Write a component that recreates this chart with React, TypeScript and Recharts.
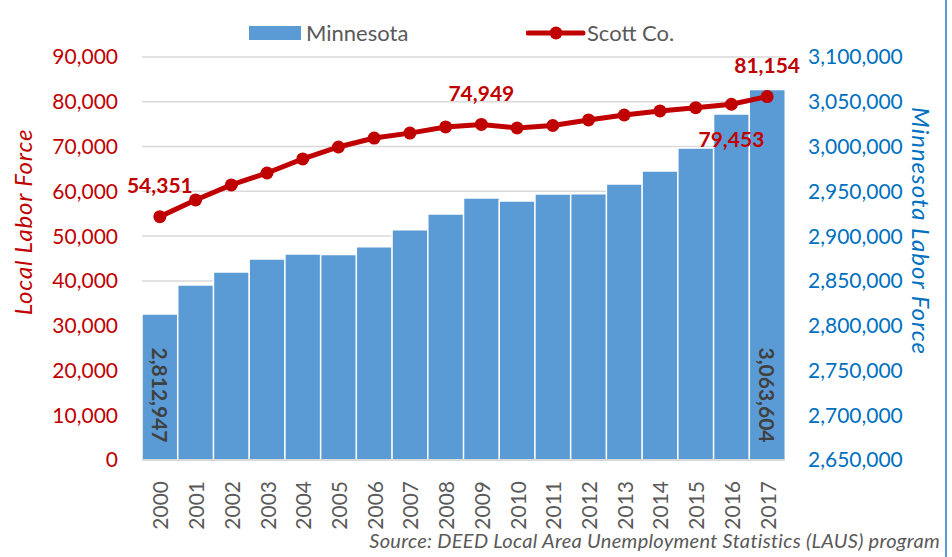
import React from 'react';
import {
  ComposedChart,
  Bar,
  Line,
  XAxis,
  YAxis,
  CartesianGrid,
} from 'recharts';

// Labor force by year
const years = [
  '2000', '2001', '2002', '2003', '2004', '2005', '2006', '2007', '2008',
  '2009', '2010', '2011', '2012', '2013', '2014', '2015', '2016', '2017',
];
const minnesota = [
  2812947, 2845500, 2860000, 2874500, 2880000, 2879500, 2888000, 2907000, 2924800,
  2942600, 2939300, 2947000, 2947300, 2958300, 2972800, 2998400, 3036400, 3063604,
];
const scottCo = [
  54351, 58080, 61430, 64100, 67230, 69900, 71900, 73000, 74375,
  74949, 74150, 74700, 75940, 77050, 77950, 78680, 79453, 81154,
];
const leftTicks = [0, 10000, 20000, 30000, 40000, 50000, 60000, 70000, 80000, 90000];
const rightTicks = [
  2650000, 2700000, 2750000, 2800000, 2850000, 2900000, 2950000, 3000000, 3050000, 3100000,
];
// which points get a value label
const labeledScott = [0, 9, 16, 17];
const labelBelow = [16];
const labeledBars = [0, 17];

const data = years.map((year, i) => ({ year, mn: minnesota[i], scott: scottCo[i] }));

const RED = '#C00000';
const BLUE = '#5B9BD5';
const AXIS_BLUE = '#0070C0';
const GREY = '#595959';
const FONT = 'Lato, "Open Sans", sans-serif';

const fmt = (v: number) => v.toLocaleString('en-US');

const YearTick = (props: any) => {
  const { x, y, payload } = props;
  return (
    <text
      transform={`translate(${x},${y + 13}) rotate(-90)`}
      textAnchor="end"
      dominantBaseline="central"
      fill={GREY}
      fontSize={21}
      fontFamily={FONT}
    >
      {payload.value}
    </text>
  );
};

const ScottLabel = (props: any) => {
  const { x, y, index, value } = props;
  if (!labeledScott.includes(index)) return null;
  const below = labelBelow.includes(index);
  return (
    <text
      x={x}
      y={below ? y + 34 : y - 32}
      textAnchor="middle"
      dominantBaseline="central"
      fill={RED}
      fontSize={21}
      fontWeight={700}
      fontFamily={FONT}
    >
      {fmt(value)}
    </text>
  );
};

const BarValue = (props: any) => {
  const { x, width, index, value } = props;
  if (!labeledBars.includes(index)) return null;
  const cx = x + width / 2;
  return (
    <text
      transform={`translate(${cx},395) rotate(90)`}
      textAnchor="middle"
      dominantBaseline="central"
      fill="#404040"
      fontSize={21}
      fontWeight={700}
      fontFamily={FONT}
    >
      {fmt(value)}
    </text>
  );
};

export default function App() {
  return (
    <div style={{ position: 'absolute', left: 0, top: 0, width: 952, height: 557, background: '#fff', fontFamily: FONT }}>
      {/* legend */}
      <div style={{ position: 'absolute', left: 249, top: 26, width: 52, height: 14, background: BLUE }} />
      <div style={{ position: 'absolute', left: 306, top: 17, fontSize: 22, color: GREY, lineHeight: '32px' }}>Minnesota</div>
      <svg style={{ position: 'absolute', left: 526, top: 24 }} width={60} height={20}>
        <line x1={2} y1={9} x2={57} y2={9} stroke={RED} strokeWidth={5} strokeLinecap="round" />
        <circle cx={30} cy={9} r={6.5} fill={RED} />
      </svg>
      <div style={{ position: 'absolute', left: 587, top: 17, fontSize: 22, color: GREY, lineHeight: '32px' }}>Scott Co.</div>

      <ComposedChart
        width={952}
        height={557}
        data={data}
        margin={{ top: 57, right: 0, bottom: 0, left: 0 }}
        barCategoryGap={0}
        barGap={0}
      >
        <CartesianGrid yAxisId="left" vertical={false} stroke="#D9D9D9" strokeWidth={1.5} />
        <XAxis
          dataKey="year"
          height={97}
          interval={0}
          tick={<YearTick />}
          tickLine={false}
          axisLine={{ stroke: '#D9D9D9', strokeWidth: 2 }}
        />
        <YAxis
          yAxisId="left"
          width={142}
          domain={[0, 90000]}
          ticks={leftTicks}
          tickFormatter={fmt}
          axisLine={false}
          tickLine={false}
          tickSize={0}
          tickMargin={24}
          tick={{ fill: RED, fontSize: 21, fontFamily: FONT }}
        />
        <YAxis
          yAxisId="right"
          orientation="right"
          width={167}
          domain={[2650000, 3100000]}
          ticks={rightTicks}
          tickFormatter={fmt}
          axisLine={false}
          tickLine={false}
          tickSize={0}
          tickMargin={23}
          tick={{ fill: AXIS_BLUE, fontSize: 21, fontFamily: FONT }}
        />
        <Bar
          yAxisId="right"
          dataKey="mn"
          fill={BLUE}
          stroke="#ffffff"
          strokeWidth={1.5}
          isAnimationActive={false}
          label={<BarValue />}
        />
        <Line
          yAxisId="left"
          dataKey="scott"
          stroke={RED}
          strokeWidth={5}
          dot={{ r: 6.5, fill: RED, stroke: RED, strokeWidth: 0 }}
          activeDot={false}
          isAnimationActive={false}
          label={<ScottLabel />}
        />
      </ComposedChart>

      {/* axis titles */}
      <div
        style={{
          position: 'absolute', left: 22, top: 222, transform: 'translate(-50%,-50%) rotate(-90deg)',
          whiteSpace: 'nowrap', fontSize: 24, letterSpacing: 0.8, fontStyle: 'italic', color: RED,
        }}
      >
        Local Labor Force
      </div>
      <div
        style={{
          position: 'absolute', left: 921, top: 231, transform: 'translate(-50%,-50%) rotate(90deg)',
          whiteSpace: 'nowrap', fontSize: 24, letterSpacing: 1, fontStyle: 'italic', color: AXIS_BLUE,
        }}
      >
        Minnesota Labor Force
      </div>

      <div
        style={{
          position: 'absolute', right: 12, top: 528, whiteSpace: 'nowrap',
          fontSize: 20, letterSpacing: 0.3, fontStyle: 'italic', color: GREY,
        }}
      >
        Source: DEED Local Area Unemployment Statistics (LAUS) program
      </div>
      <div style={{ position: 'absolute', left: 945, top: 0, width: 2, height: 557, background: '#5B9BD5' }} />
    </div>
  );
}
